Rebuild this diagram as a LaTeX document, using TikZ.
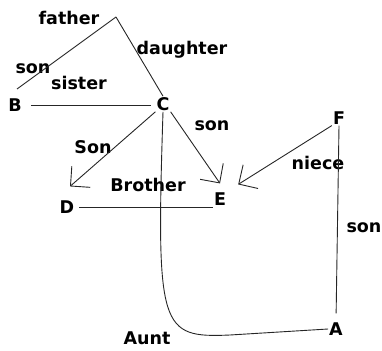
\documentclass[tikz,border=0pt]{standalone}
\usepackage{fontspec}
\setmainfont{DejaVu Sans}
\usetikzlibrary{arrows.meta}
\begin{document}
\begin{tikzpicture}[x=1pt,y=-1pt,
  lbl/.style={font=\fontsize{17.5}{19}\selectfont\bfseries, inner sep=1pt},
  ln/.style={line width=0.9pt, black!85},
  arr/.style={ln, -{Straight Barb[length=14pt,width=28pt,line width=0.9pt]}}]
\useasboundingbox (0,0) rectangle (382,350);
% labels
\node[lbl] (lfather) at (69,18) {father};
\node[lbl] (ldaughter) at (182,50) {daughter};
\node[lbl] (lson1) at (33,69) {son};
\node[lbl] (lsister) at (79,83) {sister};
\node[lbl] (lSon) at (93,147) {Son};
\node[lbl] (lson2) at (212,126) {son};
\node[lbl] (lbrother) at (148,185) {Brother};
\node[lbl] (lniece) at (318,163) {niece};
\node[lbl] (lson3) at (364,228) {son};
\node[lbl] (launt) at (147,338) {Aunt};
% nodes
\node[lbl] (B) at (15,105) {B};
\node[lbl] (C) at (163,104) {C};
\node[lbl] (D) at (67,207) {D};
\node[lbl] (E) at (220,199) {E};
\node[lbl] (F) at (339,118) {F};
\node[lbl] (A) at (336,329) {A};
\coordinate (apex) at (116,17);
\coordinate (sonend) at (17,89);
% connectors
\draw[ln] (apex) -- (sonend);
\draw[ln] (apex) -- (C.north);
\draw[ln, shorten <=8pt, shorten >=4pt] (B.east) -- (B.east -| C.west);
\draw[arr] (C.south west) -- ([shift={(3pt,13pt)}]D.north);
\draw[arr] (C.south east) -- ([shift={(0pt,8pt)}]E.north);
\draw[arr] (F.south west) -- ([shift={(11pt,7pt)}]E.north east);
\draw[ln, shorten <=4pt] (D.east) -- (D.east -| E.west);
\draw[ln, shorten >=8pt] (F.south) -- (A.north);
\draw[ln] (C.south) .. controls (156,330) and (160,338) .. (230,335) -- (A.west);
\end{tikzpicture}
\end{document}
